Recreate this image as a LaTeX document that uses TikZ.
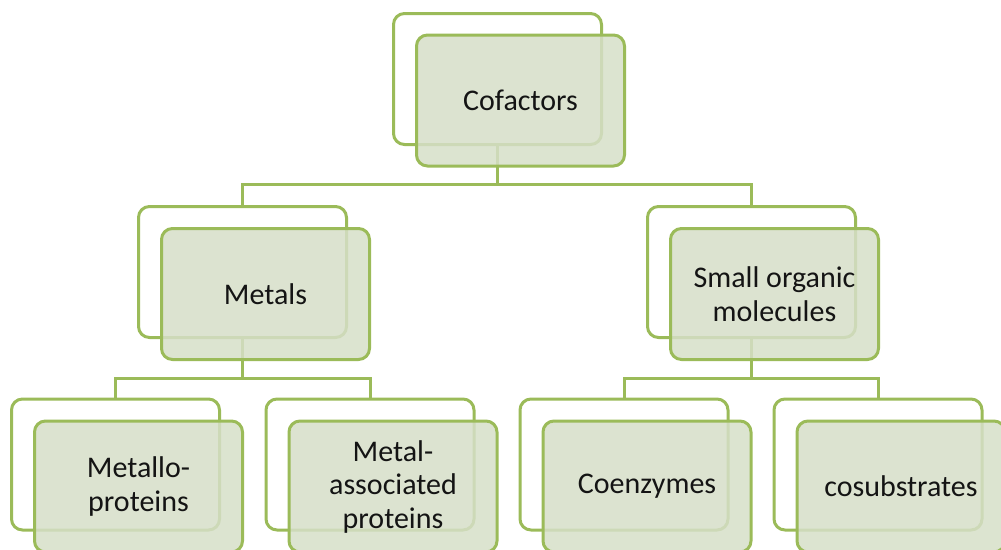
\documentclass[tikz,border=0pt]{standalone}
\usepackage{fontspec}
\setmainfont{Carlito}
\usetikzlibrary{backgrounds}
\definecolor{linegreen}{RGB}{155,187,89}
\definecolor{boxfill}{RGB}{214,223,200}
\definecolor{txt}{RGB}{20,20,20}
\tikzset{
  backbox/.style={draw=linegreen, line width=3pt, rounded corners=11pt, fill=white,
    minimum width=208pt, minimum height=131pt, inner sep=0pt},
  frontbox/.style={draw=linegreen, line width=3pt, rounded corners=11pt, fill=boxfill, fill opacity=0.85, text opacity=1,
    minimum width=208pt, minimum height=131pt, inner sep=0pt, align=center, text=txt,
    font=\fontsize{30}{33.5}\selectfont},
  conn/.style={draw=linegreen, line width=3pt}
}
\begin{document}
\begin{tikzpicture}[x=1pt,y=-1pt]
\useasboundingbox (0,0) rectangle (1001,549);
\clip (0,0) rectangle (1001,549);
\coordinate (busA) at (0,184);
\coordinate (busB) at (0,378);
% back boxes
\node[backbox] (cofB) at (497.5,79) {};
\node[backbox] (metB) at (242.5,272) {};
\node[backbox] (somB) at (751.5,272) {};
\node[backbox] (mpB) at (115.5,464.5) {};
\node[backbox] (mapB) at (370,464.5) {};
\node[backbox] (coB) at (624,464.5) {};
\node[backbox] (csB) at (878,464.5) {};
% connectors (behind boxes)
\begin{scope}[on background layer]
\draw[conn] (cofB.south) -- (cofB.south |- busA) -| (metB.north);
\draw[conn] (cofB.south |- busA) -| (somB.north);
\draw[conn] (metB.south) -- (metB.south |- busB) -| (mpB.north);
\draw[conn] (metB.south |- busB) -| (mapB.north);
\draw[conn] (somB.south) -- (somB.south |- busB) -| (coB.north);
\draw[conn] (somB.south |- busB) -| (csB.north);
\end{scope}
% front boxes
\node[frontbox] (cof) at (520.5,100.5) {Cofactors};
\node[frontbox] (met) at (265.5,294) {Metals};
\node[frontbox] (som) at (774.5,294) {Small organic\\molecules};
\node[frontbox] (mp) at (138.5,486.5) {Metallo-\\proteins};
\node[frontbox] (map) at (393,486.5) {Metal-\\associated\\proteins};
\node[frontbox] (co) at (647,486.5) {Coenzymes};
\node[frontbox] (cs) at (901,486.5) {cosubstrates};
\end{tikzpicture}
\end{document}
